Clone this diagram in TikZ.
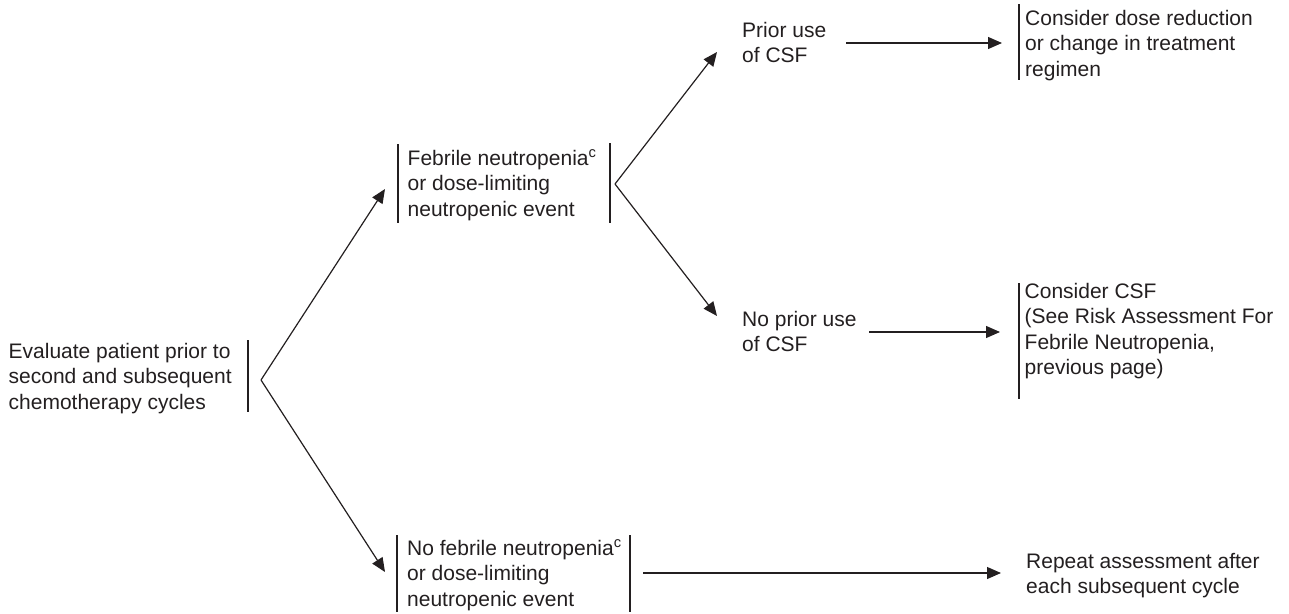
\documentclass[tikz,border=0pt]{standalone}
\usepackage{fontspec}
\setmainfont{Liberation Sans}
\usetikzlibrary{arrows.meta}
\definecolor{ink}{HTML}{231F20}
\begin{document}
\begin{tikzpicture}[x=1pt,y=-1pt,
  txt/.style={anchor=north west,inner sep=0pt,align=left,font=\fontsize{21}{25.5}\selectfont,text=ink},
  bar/.style={draw=ink,line width=1.4pt},
  ln/.style={draw=ink,line width=1.2pt},
  arr/.style={ln,-{Triangle[length=14pt,width=12pt]}}]
\useasboundingbox (0,0) rectangle (1289,613);

% text nodes
\node[txt] (A) at (8.5,342.7) {Evaluate patient prior to\\second and subsequent\\chemotherapy cycles};
\node[txt] (B) at (407.5,149.7) {Febrile neutropenia\textsuperscript{c}\\or dose-limiting\\neutropenic event};
\node[txt] (C) at (407,539.7) {No febrile neutropenia\textsuperscript{c}\\or dose-limiting\\neutropenic event};
\node[txt] (P1) at (742,21.7) {Prior use\\of CSF};
\node[txt] (P2) at (742,310.7) {No prior use\\of CSF};
\node[txt] (R1) at (1025,9.7) {Consider dose reduction\\or change in treatment\\regimen};
\node[txt] (R2) at (1024.5,282.7) {Consider CSF\\(See Risk Assessment For\\Febrile Neutropenia,\\previous page)};
\node[txt] (R3) at (1026,552.7) {Repeat assessment after\\each subsequent cycle};

% bars
\draw[bar] (248,340) -- (248,412);
\draw[bar] (398,144) -- (398,223);
\draw[bar] (610,143) -- (610,223);
\draw[bar] (397,535) -- (397,612);
\draw[bar] (630,535) -- (630,612);
\draw[bar] (1019,4) -- (1019,80);
\draw[bar] (1019,283) -- (1019,399);

% connector points
\coordinate (vA) at (261,380);
\coordinate (tB) at (385,189);
\coordinate (tC) at (385,572);
\coordinate (vB) at (615,184);
\coordinate (tP1) at (717,52);
\coordinate (tP2) at (717,316);
\coordinate (sP1) at (846,43);
\coordinate (eP1) at (1002,43);
\coordinate (sP2) at (869,332);
\coordinate (eP2) at (1000,332);
\coordinate (sC) at (643,573);
\coordinate (eC) at (1001,573);

\draw[arr] (vA) -- (tB);
\draw[arr] (vA) -- (tC);
\draw[arr] (vB) -- (tP1);
\draw[arr] (vB) -- (tP2);
\draw[arr] (sP1) -- (eP1);
\draw[arr] (sP2) -- (eP2);
\draw[arr] (sC) -- (eC);
\end{tikzpicture}
\end{document}
